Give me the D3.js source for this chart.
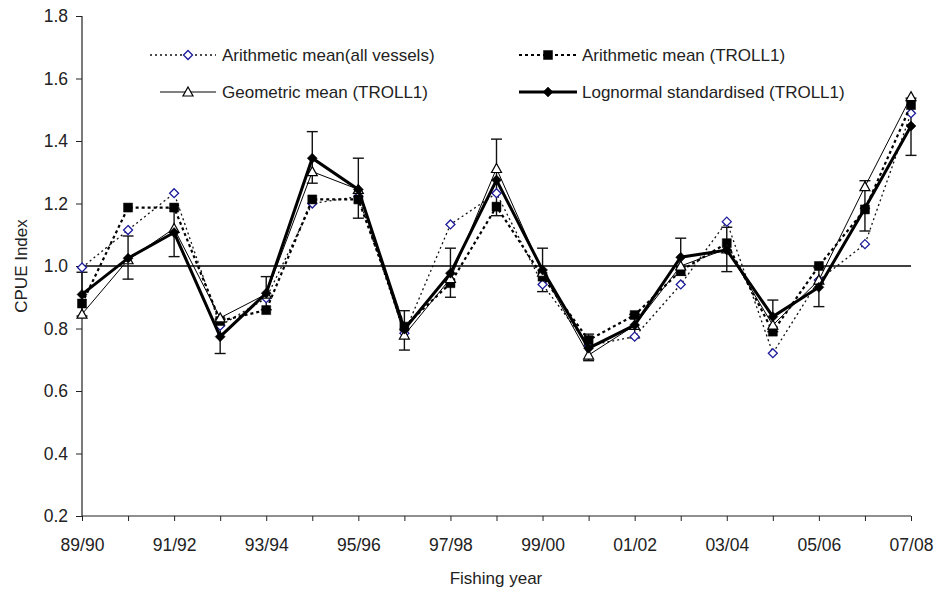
<!DOCTYPE html>
<html>
<head>
<meta charset="utf-8">
<script src="https://cdn.jsdelivr.net/npm/d3@7"></script>
<style>
  body { margin: 0; background: #fff; }
  svg { display: block; }
  text { font-family: "Liberation Sans", Arial, sans-serif; fill: #222; }
</style>
</head>
<body>
<svg id="chart" width="937" height="590"></svg>
<script>
// Fishing years (x categories)
const years = ["89/90","90/91","91/92","92/93","93/94","94/95","95/96","96/97","97/98","98/99",
               "99/00","00/01","01/02","02/03","03/04","04/05","05/06","06/07","07/08"];

// CPUE indices
const arithAll   = [0.995,1.115,1.233,0.809,0.897,1.200,1.222,0.785,1.133,1.233,0.941,0.745,0.774,0.941,1.142,0.721,0.955,1.070,1.489];
const arithTroll = [0.880,1.187,1.187,0.824,0.859,1.213,1.213,0.806,0.945,1.190,0.966,0.763,0.843,0.985,1.073,0.790,1.000,1.181,1.515];
const geomTroll  = [0.846,1.020,1.120,0.834,0.910,1.302,1.245,0.779,0.960,1.312,0.980,0.715,0.810,1.000,1.055,0.811,0.955,1.254,1.542];
const lognTroll  = [0.909,1.025,1.107,0.774,0.913,1.345,1.245,0.798,0.977,1.275,0.987,0.737,0.811,1.028,1.051,0.838,0.932,1.185,1.448];
// 95% confidence bounds of the lognormal index
const lognLo     = [0.840,0.958,1.030,0.720,0.860,1.265,1.153,0.731,0.900,1.161,0.918,0.697,0.770,0.970,0.982,0.790,0.870,1.112,1.354];
const lognHi     = [0.980,1.096,1.185,0.830,0.966,1.430,1.345,0.857,1.057,1.406,1.057,0.782,0.845,1.089,1.124,0.891,0.995,1.273,1.537];

const yTicks = [0.2,0.4,0.6,0.8,1.0,1.2,1.4,1.6,1.8];

const svg = d3.select("#chart");
const x = d3.scalePoint().domain(years).range([82, 911]);
const y = d3.scaleLinear().domain([0.2, 1.8]).range([516, 16]);

// Axes
const yAxis = d3.axisLeft(y).tickValues(yTicks).tickFormat(d3.format(".1f")).tickSize(6).tickPadding(8);
const gy = svg.append("g").attr("transform", "translate(82,0)").call(yAxis);
gy.select(".domain").attr("stroke", "#222").attr("stroke-width", 1.2).attr("d", "M0,16V516");
gy.selectAll(".tick line").attr("stroke", "#222");
gy.selectAll("text").style("font-size", "17.5px").attr("fill", "#222");

const xAxis = d3.axisBottom(x).tickSize(5).tickPadding(18)
  .tickFormat((d, i) => i % 2 === 0 ? d : "");
const gx = svg.append("g").attr("transform", "translate(0,516)").call(xAxis);
gx.select(".domain").attr("stroke", "#222").attr("stroke-width", 1.2).attr("d", "M82,0H911");
gx.selectAll(".tick line").attr("stroke", "#222");
gx.selectAll("text").style("font-size", "17.5px").attr("fill", "#222");

// Reference line at 1.0
svg.append("line")
  .attr("x1", x(years[0])).attr("x2", x(years[years.length - 1]))
  .attr("y1", y(1.0)).attr("y2", y(1.0))
  .attr("stroke", "#000").attr("stroke-width", 1.5);

// Axis titles
svg.append("text").attr("x", 496).attr("y", 584).attr("text-anchor", "middle")
  .style("font-size", "17px").text("Fishing year");
svg.append("text").attr("transform", "translate(27,266) rotate(-90)").attr("text-anchor", "middle")
  .style("font-size", "17px").text("CPUE Index");

const line = d3.line().x((d, i) => x(years[i])).y(d => y(d));

const diamond = s => `M0,${-s}L${s},0L0,${s}L${-s},0Z`;
const triangle = s => `M0,${-s}L${s},${s * 0.8}L${-s},${s * 0.8}Z`;

const series = [
  { name: "Arithmetic mean(all vessels)", data: arithAll, stroke: "#111", width: 1.3, dash: "2,3",
    marker: diamond(4.5), fill: "#fff", mstroke: "#1a1a9a", mwidth: 1.3 },
  { name: "Arithmetic mean (TROLL1)", data: arithTroll, stroke: "#000", width: 2.2, dash: "3,3",
    marker: "M-4.5,-4.5H4.5V4.5H-4.5Z", fill: "#000", mstroke: "#000", mwidth: 0.5 },
  { name: "Geometric mean (TROLL1)", data: geomTroll, stroke: "#000", width: 1, dash: null,
    marker: triangle(5), fill: "#fff", mstroke: "#000", mwidth: 1.2 },
  { name: "Lognormal standardised (TROLL1)", data: lognTroll, stroke: "#000", width: 3, dash: null,
    marker: diamond(5), fill: "#000", mstroke: "#000", mwidth: 0.5 }
];

// Error bars for the lognormal index
const eb = svg.append("g").attr("stroke", "#111").attr("stroke-width", 1.4);
years.forEach((yr, i) => {
  const cx = x(yr);
  eb.append("line").attr("x1", cx).attr("x2", cx).attr("y1", y(lognLo[i])).attr("y2", y(lognHi[i]));
  eb.append("line").attr("x1", cx - 5.5).attr("x2", cx + 5.5).attr("y1", y(lognLo[i])).attr("y2", y(lognLo[i]));
  eb.append("line").attr("x1", cx - 5.5).attr("x2", cx + 5.5).attr("y1", y(lognHi[i])).attr("y2", y(lognHi[i]));
});

series.forEach(s => {
  svg.append("path").datum(s.data).attr("d", line).attr("fill", "none")
    .attr("stroke", s.stroke).attr("stroke-width", s.width)
    .attr("stroke-dasharray", s.dash).attr("stroke-linejoin", "miter");
  svg.append("g").selectAll("path").data(s.data).join("path")
    .attr("transform", (d, i) => `translate(${x(years[i])},${y(d)})`)
    .attr("d", s.marker).attr("fill", s.fill).attr("stroke", s.mstroke).attr("stroke-width", s.mwidth);
});

// Legend
const legendPos = [
  { lx1: 150, lx2: 216, mx: 188, tx: 222, ty: 55 },
  { lx1: 519, lx2: 577, mx: 548, tx: 582, ty: 55 },
  { lx1: 160, lx2: 216, mx: 188, tx: 222, ty: 92 },
  { lx1: 519, lx2: 577, mx: 548, tx: 582, ty: 92 }
];
series.forEach((s, k) => {
  const p = legendPos[k];
  const g = svg.append("g");
  g.append("line").attr("x1", p.lx1).attr("x2", p.lx2).attr("y1", p.ty).attr("y2", p.ty)
    .attr("stroke", s.stroke).attr("stroke-width", s.width).attr("stroke-dasharray", s.dash);
  g.append("path").attr("transform", `translate(${p.mx},${p.ty})`).attr("d", s.marker)
    .attr("fill", s.fill).attr("stroke", s.mstroke).attr("stroke-width", s.mwidth);
  g.append("text").attr("x", p.tx).attr("y", p.ty).attr("dy", "0.35em")
    .style("font-size", "17px").text(s.name);
});
</script>
</body>
</html>
